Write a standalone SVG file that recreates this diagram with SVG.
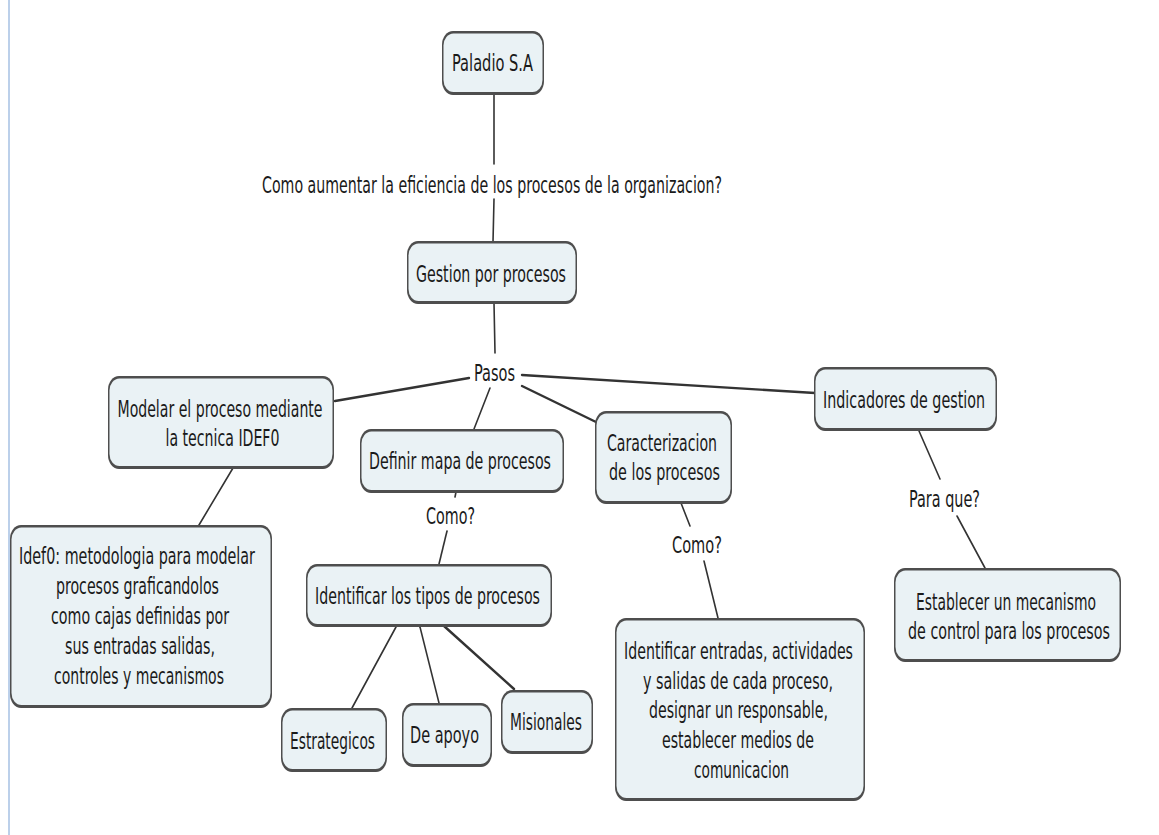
<svg xmlns="http://www.w3.org/2000/svg" width="1159" height="835" viewBox="0 0 1159 835">
<style>
.bg{fill:#ffffff}
.no{fill:#4e4e4e}
.ni{fill:#eaf2f5}
.t{font-family:"DejaVu Sans Condensed","DejaVu Sans","Liberation Sans",sans-serif;font-stretch:condensed;font-size:23px;fill:#1a1a1a;text-anchor:middle}
.c{stroke:#333333;stroke-width:1.6;fill:none;stroke-linecap:round}
.ch{stroke:#333333;stroke-width:2.4;fill:none;stroke-linecap:round}
</style>
<rect class="bg" x="0" y="0" width="1159" height="835"/>
<rect x="8" y="0" width="2" height="835" fill="#bcd0ea"/>

<g id="connectors">
<line class="c" x1="494" y1="95" x2="494" y2="164"/>
<line class="c" x1="494" y1="199" x2="493" y2="242"/>
<line class="c" x1="494" y1="303" x2="495" y2="353"/>
<line class="ch" x1="469" y1="378" x2="335" y2="401"/>
<line class="c" x1="490" y1="388" x2="474" y2="429"/>
<line class="ch" x1="522" y1="386" x2="596" y2="422"/>
<line class="ch" x1="522" y1="375" x2="815" y2="393"/>
<line class="c" x1="456" y1="492" x2="455" y2="497"/>
<line class="c" x1="447" y1="531" x2="439" y2="564"/>
<line class="c" x1="233" y1="468" x2="199" y2="525"/>
<line class="c" x1="396" y1="627" x2="352" y2="708"/>
<line class="c" x1="420" y1="627" x2="439" y2="703"/>
<line class="ch" x1="444" y1="626" x2="514" y2="689"/>
<line class="c" x1="681" y1="503" x2="690" y2="526"/>
<line class="c" x1="704" y1="561" x2="718" y2="618"/>
<line class="c" x1="919" y1="431" x2="940" y2="479"/>
<line class="c" x1="957" y1="516" x2="985" y2="568"/>
</g>

<g id="labels">
<text class="t" x="492" y="193" textLength="460" lengthAdjust="spacingAndGlyphs">Como aumentar la eficiencia de los procesos de la organizacion?</text>
<text class="t" x="494.5" y="381" textLength="41" lengthAdjust="spacingAndGlyphs">Pasos</text>
<text class="t" x="450.5" y="524" textLength="49" lengthAdjust="spacingAndGlyphs">Como?</text>
<text class="t" x="697" y="553" textLength="50" lengthAdjust="spacingAndGlyphs">Como?</text>
<text class="t" x="944.5" y="507" textLength="71" lengthAdjust="spacingAndGlyphs">Para que?</text>
</g>

<g id="n-paladio">
<rect class="no" x="442" y="31" width="102" height="64" rx="11" ry="14"/>
<rect class="ni" x="443.5" y="33.5" width="99" height="58.5" rx="10" ry="12"/>
<text class="t" x="492.5" y="71" textLength="81" lengthAdjust="spacingAndGlyphs">Paladio S.A</text>
</g>

<g id="n-gestion">
<rect class="no" x="407" y="241" width="170" height="63" rx="11" ry="14"/>
<rect class="ni" x="408.5" y="243.5" width="167" height="57.5" rx="10" ry="12"/>
<text class="t" x="491" y="282" textLength="150" lengthAdjust="spacingAndGlyphs">Gestion por procesos</text>
</g>

<g id="n-modelar">
<rect class="no" x="108" y="376" width="226" height="93" rx="11" ry="14"/>
<rect class="ni" x="109.5" y="378.5" width="223" height="87.5" rx="10" ry="12"/>
<text class="t" x="220" y="417" textLength="205" lengthAdjust="spacingAndGlyphs">Modelar el proceso mediante</text>
<text class="t" x="222.5" y="446" textLength="114" lengthAdjust="spacingAndGlyphs">la tecnica IDEF0</text>
</g>

<g id="n-definir">
<rect class="no" x="360" y="429" width="204" height="64" rx="11" ry="14"/>
<rect class="ni" x="361.5" y="431.5" width="201" height="58.5" rx="10" ry="12"/>
<text class="t" x="460" y="469" textLength="182" lengthAdjust="spacingAndGlyphs">Definir mapa de procesos</text>
</g>

<g id="n-caracterizacion">
<rect class="no" x="595" y="411" width="137" height="93" rx="11" ry="14"/>
<rect class="ni" x="596.5" y="413.5" width="134" height="87.5" rx="10" ry="12"/>
<text class="t" x="662" y="451" textLength="110" lengthAdjust="spacingAndGlyphs">Caracterizacion</text>
<text class="t" x="664.5" y="480" textLength="111" lengthAdjust="spacingAndGlyphs">de los procesos</text>
</g>

<g id="n-indicadores">
<rect class="no" x="814" y="367" width="183" height="64" rx="11" ry="14"/>
<rect class="ni" x="815.5" y="369.5" width="180" height="58.5" rx="10" ry="12"/>
<text class="t" x="904" y="408" textLength="162" lengthAdjust="spacingAndGlyphs">Indicadores de gestion</text>
</g>

<g id="n-idef0">
<rect class="no" x="10" y="525" width="262" height="183" rx="11" ry="14"/>
<rect class="ni" x="11.5" y="527.5" width="259" height="177.5" rx="10" ry="12"/>
<text class="t" x="137" y="564" textLength="236" lengthAdjust="spacingAndGlyphs">Idef0: metodologia para modelar</text>
<text class="t" x="137.5" y="594" textLength="163" lengthAdjust="spacingAndGlyphs">procesos graficandolos</text>
<text class="t" x="140" y="624" textLength="178" lengthAdjust="spacingAndGlyphs">como cajas definidas por</text>
<text class="t" x="140" y="654" textLength="150" lengthAdjust="spacingAndGlyphs">sus entradas salidas,</text>
<text class="t" x="139" y="684" textLength="170" lengthAdjust="spacingAndGlyphs">controles y mecanismos</text>
</g>

<g id="n-identificar-tipos">
<rect class="no" x="306" y="564" width="246" height="63" rx="11" ry="14"/>
<rect class="ni" x="307.5" y="566.5" width="243" height="57.5" rx="10" ry="12"/>
<text class="t" x="427.5" y="604" textLength="225" lengthAdjust="spacingAndGlyphs">Identificar los tipos de procesos</text>
</g>

<g id="n-estrategicos">
<rect class="no" x="281" y="708" width="106" height="64" rx="11" ry="14"/>
<rect class="ni" x="282.5" y="710.5" width="103" height="58.5" rx="10" ry="12"/>
<text class="t" x="332.5" y="749" textLength="85" lengthAdjust="spacingAndGlyphs">Estrategicos</text>
</g>

<g id="n-deapoyo">
<rect class="no" x="402" y="703" width="90" height="64" rx="11" ry="14"/>
<rect class="ni" x="403.5" y="705.5" width="87" height="58.5" rx="10" ry="12"/>
<text class="t" x="444.5" y="743" textLength="69" lengthAdjust="spacingAndGlyphs">De apoyo</text>
</g>

<g id="n-misionales">
<rect class="no" x="501" y="690" width="92" height="64" rx="11" ry="14"/>
<rect class="ni" x="502.5" y="692.5" width="89" height="58.5" rx="10" ry="12"/>
<text class="t" x="546" y="730" textLength="72" lengthAdjust="spacingAndGlyphs">Misionales</text>
</g>

<g id="n-identificar-entradas">
<rect class="no" x="615" y="618" width="250" height="183" rx="11" ry="14"/>
<rect class="ni" x="616.5" y="620.5" width="247" height="177.5" rx="10" ry="12"/>
<text class="t" x="738.5" y="659" textLength="229" lengthAdjust="spacingAndGlyphs">Identificar entradas, actividades</text>
<text class="t" x="738" y="689" textLength="190" lengthAdjust="spacingAndGlyphs">y salidas de cada proceso,</text>
<text class="t" x="738.5" y="718" textLength="179" lengthAdjust="spacingAndGlyphs">designar un responsable,</text>
<text class="t" x="738" y="748" textLength="152" lengthAdjust="spacingAndGlyphs">establecer medios de</text>
<text class="t" x="741.5" y="778" textLength="95" lengthAdjust="spacingAndGlyphs">comunicacion</text>
</g>

<g id="n-establecer">
<rect class="no" x="894" y="568" width="227" height="94" rx="11" ry="14"/>
<rect class="ni" x="895.5" y="570.5" width="224" height="88.5" rx="10" ry="12"/>
<text class="t" x="1006" y="610" textLength="180" lengthAdjust="spacingAndGlyphs">Establecer un mecanismo</text>
<text class="t" x="1009" y="639" textLength="202" lengthAdjust="spacingAndGlyphs">de control para los procesos</text>
</g>
</svg>
